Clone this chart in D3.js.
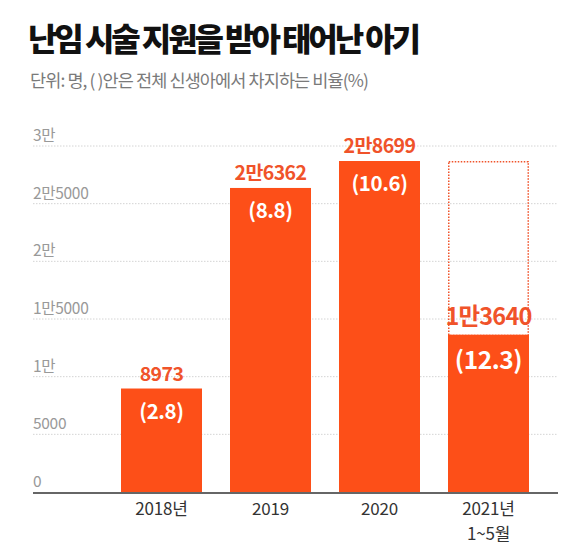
<!DOCTYPE html>
<html>
<head>
<meta charset="utf-8">
<script src="https://cdn.jsdelivr.net/npm/d3@7"></script>
<style>
  html, body { margin: 0; padding: 0; background: #fff; }
  body { font-family: "Noto Sans CJK KR", "Noto Sans", sans-serif; }
</style>
</head>
<body>
<svg id="chart"></svg>
<script>
// data
const categories = ['2018', '2019', '2020', '2021'];
const catLines = [['2018년'], ['2019'], ['2020'], ['2021년', '1~5월']];
const births = [8973, 26362, 28699, 13640];
const birthLabels = ['8973', '2만6362', '2만8699', '1만3640'];
const shares = [2.8, 8.8, 10.6, 12.3];
const outlineValues = [null, null, null, 28699];
const yTicks = [0, 5000, 10000, 15000, 20000, 25000, 30000];
const yTickLabels = ['0', '5000', '1만', '1만5000', '2만', '2만5000', '3만'];

const W = 588, H = 551;
const barColor = '#fd4f18';
const labelColor = '#f0532a';

const svg = d3.select('#chart').attr('width', W).attr('height', H);

// titles
svg.append('text')
    .attr('x', 28).attr('y', 51)
    .attr('font-size', 32).attr('font-weight', 900)
    .attr('letter-spacing', -3.1)
    .attr('fill', '#111')
    .text('난임 시술 지원을 받아 태어난 아기');

svg.append('text')
    .attr('x', 30).attr('y', 87)
    .attr('font-size', 17.5)
    .attr('letter-spacing', -0.9)
    .attr('fill', '#7a7a7a')
    .text('단위: 명, ( )안은 전체 신생아에서 차지하는 비율(%)');

const x = d3.scaleBand()
    .domain(categories)
    .range([107, 543])
    .paddingInner(0.257)
    .paddingOuter(0.1285);

const y = d3.scaleLinear()
    .domain([0, 30000])
    .range([492, 146]);

const left = 33, right = 558;

// grid lines + tick labels
const grid = svg.append('g');
yTicks.forEach((t, i) => {
    if (t > 0) {
        grid.append('line')
            .attr('x1', left).attr('x2', right)
            .attr('y1', y(t)).attr('y2', y(t))
            .attr('stroke', '#d4d4d4')
            .attr('stroke-width', 1)
            .attr('stroke-dasharray', '1.5,1.5');
    }
    grid.append('text')
        .attr('x', left).attr('y', y(t) - 5)
        .attr('font-size', 15.5)
        .attr('letter-spacing', -0.3)
        .attr('fill', '#999')
        .text(yTickLabels[i]);
});

// dotted outline box
svg.selectAll('.outline')
    .data(categories.filter((c, i) => outlineValues[i] != null))
    .enter().append('rect')
    .attr('class', 'outline')
    .attr('x', d => x(d) + 0.75)
    .attr('width', x.bandwidth() - 1.5)
    .attr('y', d => y(outlineValues[categories.indexOf(d)]) + 0.75)
    .attr('height', d => y(births[categories.indexOf(d)]) - y(outlineValues[categories.indexOf(d)]))
    .attr('fill', 'none')
    .attr('stroke', labelColor)
    .attr('stroke-width', 1.5)
    .attr('stroke-dasharray', '1.5,1.5');

// bars
svg.selectAll('.bar')
    .data(categories)
    .enter().append('rect')
    .attr('class', 'bar')
    .attr('x', d => x(d))
    .attr('width', x.bandwidth())
    .attr('y', (d, i) => y(births[i]))
    .attr('height', (d, i) => y(0) - y(births[i]))
    .attr('fill', barColor);

// axis baseline
svg.append('line')
    .attr('x1', left).attr('x2', right)
    .attr('y1', y(0) + 1).attr('y2', y(0) + 1)
    .attr('stroke', '#666')
    .attr('stroke-width', 2);

// value labels above bars
svg.selectAll('.val')
    .data(categories)
    .enter().append('text')
    .attr('class', 'val')
    .attr('x', d => x(d) + x.bandwidth() / 2)
    .attr('y', (d, i) => y(births[i]) - (i === 3 ? 10 : 8))
    .attr('text-anchor', 'middle')
    .attr('font-size', (d, i) => i === 3 ? 23.5 : 19.5)
    .attr('font-weight', 700)
    .attr('letter-spacing', (d, i) => i === 3 ? -0.8 : -0.6)
    .attr('fill', labelColor)
    .text((d, i) => birthLabels[i]);

// share labels inside bars
svg.selectAll('.share')
    .data(categories)
    .enter().append('text')
    .attr('class', 'share')
    .attr('x', d => x(d) + x.bandwidth() / 2)
    .attr('y', (d, i) => y(births[i]) + (i === 3 ? 34 : 30))
    .attr('text-anchor', 'middle')
    .attr('font-size', (d, i) => i === 3 ? 24.5 : 20.5)
    .attr('font-weight', 700)
    .attr('letter-spacing', -0.4)
    .attr('fill', '#fff')
    .text((d, i) => `(${shares[i]})`);

// category labels, one text per line
categories.forEach((d, i) => {
    catLines[i].forEach((line, j) => {
        svg.append('text')
            .attr('class', 'cat')
            .attr('x', x(d) + x.bandwidth() / 2)
            .attr('y', 515 + j * 25)
            .attr('text-anchor', 'middle')
            .attr('font-size', 17)
            .attr('letter-spacing', -0.2)
            .attr('fill', '#333')
            .text(line);
    });
});
</script>
</body>
</html>
